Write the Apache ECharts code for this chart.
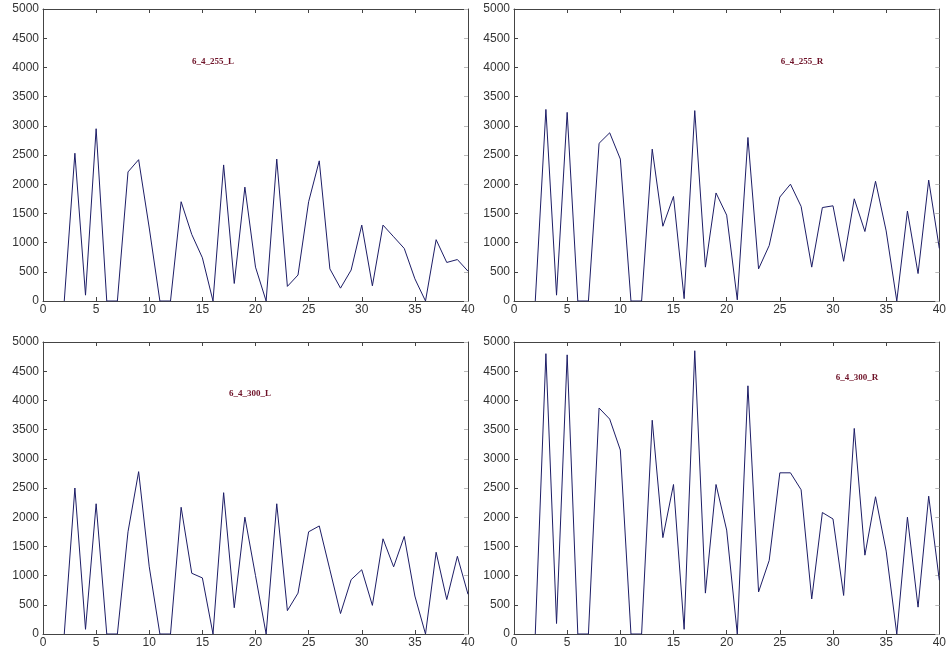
<!DOCTYPE html>
<html>
<head>
<meta charset="utf-8">
<style>
html,body{margin:0;padding:0;background:#fff;}
#chart{width:949px;height:655px;}
</style>
<script src="https://cdn.jsdelivr.net/npm/echarts@6/dist/echarts.min.js"></script>
</head>
<body>
<div id="chart"></div>
<script>
// x positions of samples
var xValues = [2,3,4,5,6,7,8,9,10,11,12,13,14,15,16,17,18,19,20,21,22,23,24,25,26,27,28,29,30,31,32,33,34,35,36,37,38,39,40];

var s255L = [0,2530,100,2950,0,0,2210,2420,1250,0,0,1700,1140,740,0,2330,300,1950,580,0,2430,250,445,1700,2400,550,220,530,1300,260,1300,1100,900,380,0,1050,660,710,510];
var s255R = [0,3280,100,3230,0,0,2700,2880,2430,0,0,2600,1280,1790,40,3260,580,1850,1470,20,2800,550,950,1780,2000,1620,580,1600,1630,680,1750,1190,2050,1200,0,1540,470,2070,900];
var s300L = [0,2500,80,2230,0,0,1750,2780,1150,0,0,2170,1040,960,0,2420,450,2000,1000,0,2230,400,700,1750,1850,1100,350,930,1100,490,1630,1150,1670,650,0,1400,590,1330,680];
var s300R = [0,4800,180,4780,0,0,3870,3680,3150,0,0,3660,1650,2560,80,4850,700,2560,1780,0,4250,720,1260,2760,2760,2470,600,2080,1970,660,3520,1350,2350,1420,0,2000,460,2360,920];

var panelTitles = ['6_4_255_L','6_4_255_R','6_4_300_L','6_4_300_R'];
var panelSeries = [s255L, s255R, s300L, s300R];

var xTicks = {min:0, max:40, interval:5};
var yTicks = {min:0, max:5000, interval:500};

var grids = [
  {left:43, top:9, width:425, height:292},
  {left:514, top:9, width:426, height:292},
  {left:43, top:342, width:425, height:292},
  {left:514, top:342, width:426, height:292}
];
var titlePos = [
  {x:208, y:52},
  {x:797, y:52},
  {x:245, y:384},
  {x:852, y:368}
];

var axisColor = '#444';
var labelStyle = {color:'#333', fontSize:12, fontFamily:'Liberation Sans, Arial, sans-serif',
  formatter:function(v){ return String(v); }};

var option = {
  animation:false,
  backgroundColor:'#fff',
  grid:[], xAxis:[], yAxis:[], series:[], title:[]
};

for (var i=0;i<4;i++){
  var g = grids[i];
  option.grid.push({left:g.left, top:g.top, width:g.width, height:g.height, containLabel:false, show:false});
  // bottom x
  option.xAxis.push({type:'value', gridIndex:i, position:'bottom', min:xTicks.min, max:xTicks.max, interval:xTicks.interval,
    axisLine:{show:true, onZero:false, lineStyle:{color:axisColor, width:1}},
    axisTick:{show:true, inside:true, length:4, lineStyle:{color:axisColor}},
    axisLabel:Object.assign({margin:3}, labelStyle),
    splitLine:{show:false}});
  // top x
  option.xAxis.push({type:'value', gridIndex:i, position:'top', min:xTicks.min, max:xTicks.max, interval:xTicks.interval,
    axisLine:{show:true, onZero:false, lineStyle:{color:axisColor, width:1}},
    axisTick:{show:true, inside:true, length:4, lineStyle:{color:axisColor}},
    axisLabel:{show:false}, splitLine:{show:false}});
  // left y
  option.yAxis.push({type:'value', gridIndex:i, position:'left', min:yTicks.min, max:yTicks.max, interval:yTicks.interval,
    axisLine:{show:true, onZero:false, lineStyle:{color:axisColor, width:1}},
    axisTick:{show:true, inside:true, length:4, lineStyle:{color:axisColor}},
    axisLabel:Object.assign({margin:4}, labelStyle),
    splitLine:{show:false}});
  // right y
  option.yAxis.push({type:'value', gridIndex:i, position:'right', min:yTicks.min, max:yTicks.max, interval:yTicks.interval,
    axisLine:{show:true, onZero:false, lineStyle:{color:axisColor, width:1}},
    axisTick:{show:true, inside:true, length:4, lineStyle:{color:'#bbb'}},
    axisLabel:{show:false}, splitLine:{show:false}});

  var vals = panelSeries[i];
  var data = xValues.map(function(x, k){ return [x, vals[k]]; });
  option.series.push({type:'line', xAxisIndex:i*2, yAxisIndex:i*2, data:data,
    symbol:'none', lineStyle:{color:'#1d1d66', width:1}, z:1});

  option.title.push({text:panelTitles[i], left:titlePos[i].x, top:titlePos[i].y, textAlign:'center',
    textStyle:{color:'#6e1228', fontSize:9, fontWeight:'bold', fontFamily:'Liberation Serif, Times New Roman, serif'}});
}

var chart = echarts.init(document.getElementById('chart'), null, {renderer:'canvas'});
chart.setOption(option);
</script>
</body>
</html>
